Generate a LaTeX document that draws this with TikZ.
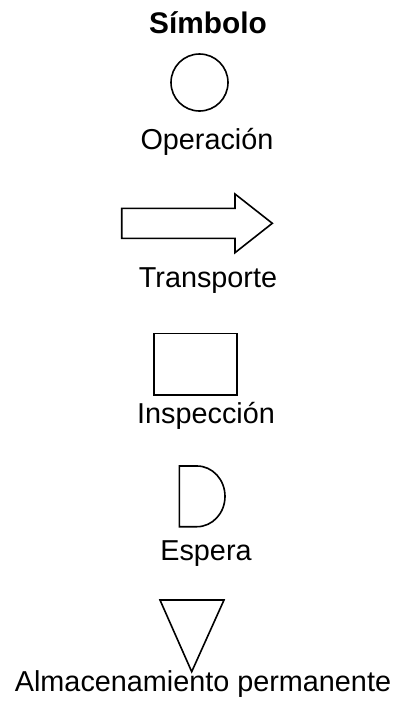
\documentclass[tikz,border=0pt]{standalone}
\usepackage{fontspec}
\setmainfont{Liberation Sans}
\usetikzlibrary{positioning}

\begin{document}
\begin{tikzpicture}[x=1pt,y=-1pt,line width=1.6pt,
  lbl/.style={anchor=base,inner sep=0pt,font=\fontsize{28.8}{34}\selectfont}]
  \useasboundingbox (0,0) rectangle (402,704);

  \node[lbl,font=\fontsize{29.8}{35}\selectfont\bfseries] (title) at (208,33) {Símbolo};

  % operacion
  \node[draw,circle,minimum size=57pt,inner sep=0pt] (op_sym) at (199.5,82.5) {};
  \node[lbl] (op_lbl) at (207,149) {Operación};

  % transporte
  \draw (121.7,208.3) -- (235,208.3) -- (235,194) -- (272.3,223.3)
        -- (235,252.7) -- (235,238.3) -- (121.7,238.3) -- cycle;
  \node[lbl] (tr_lbl) at (208,287.3) {Transporte};

  % inspeccion
  \node[draw,rectangle,minimum width=82.7pt,minimum height=61.4pt,inner sep=0pt] (insp_sym) at (195.4,364) {};
  \node[lbl] (insp_lbl) at (206,423) {Inspección};

  % espera
  \draw (197,526.7) -- (179.3,526.7) -- (179.3,466) -- (197,466)
        arc[start angle=-90,end angle=90,x radius=28,y radius=30.35];
  \node[lbl] (esp_lbl) at (206,560) {Espera};

  % almacenamiento
  \draw (160,600) -- (224,600) -- (191.7,671.7) -- cycle;
  \node[lbl] (alm_lbl) at (203,691.7) {Almacenamiento permanente};

\end{tikzpicture}
\end{document}
